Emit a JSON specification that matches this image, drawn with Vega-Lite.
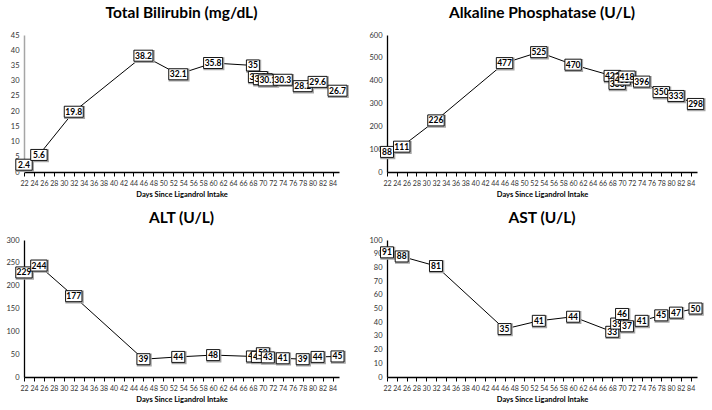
{
  "$schema": "https://vega.github.io/schema/vega-lite/v6.json",
  "padding": {"left": 5, "top": 5, "right": 0, "bottom": 0},
  "background": "white",
  "data": {"values": [
    {"t":"TB","day":22,"v":2.4},{"t":"TB","day":25,"v":5.6},{"t":"TB","day":32,"v":19.8},{"t":"TB","day":46,"v":38.2},{"t":"TB","day":53,"v":32.1},{"t":"TB","day":60,"v":35.8},{"t":"TB","day":68,"v":35},{"t":"TB","day":69,"v":31.2},{"t":"TB","day":70,"v":30.5},{"t":"TB","day":71,"v":30.1},{"t":"TB","day":74,"v":30.3},{"t":"TB","day":78,"v":28.2},{"t":"TB","day":81,"v":29.6},{"t":"TB","day":85,"v":26.7},
    {"t":"ALP","day":22,"v":88},{"t":"ALP","day":25,"v":111},{"t":"ALP","day":32,"v":226},{"t":"ALP","day":46,"v":477},{"t":"ALP","day":53,"v":525},{"t":"ALP","day":60,"v":470},{"t":"ALP","day":68,"v":421},{"t":"ALP","day":69,"v":386},{"t":"ALP","day":70,"v":405},{"t":"ALP","day":71,"v":418},{"t":"ALP","day":74,"v":396},{"t":"ALP","day":78,"v":350},{"t":"ALP","day":81,"v":333},{"t":"ALP","day":85,"v":298},
    {"t":"ALT","day":22,"v":229},{"t":"ALT","day":25,"v":244},{"t":"ALT","day":32,"v":177},{"t":"ALT","day":46,"v":39},{"t":"ALT","day":53,"v":44},{"t":"ALT","day":60,"v":48},{"t":"ALT","day":68,"v":45},{"t":"ALT","day":69,"v":44},{"t":"ALT","day":70,"v":52},{"t":"ALT","day":71,"v":43},{"t":"ALT","day":74,"v":41},{"t":"ALT","day":78,"v":39},{"t":"ALT","day":81,"v":44},{"t":"ALT","day":85,"v":45},
    {"t":"AST","day":22,"v":91},{"t":"AST","day":25,"v":88},{"t":"AST","day":32,"v":81},{"t":"AST","day":46,"v":35},{"t":"AST","day":53,"v":41},{"t":"AST","day":60,"v":44},{"t":"AST","day":68,"v":33},{"t":"AST","day":69,"v":39},{"t":"AST","day":70,"v":46},{"t":"AST","day":71,"v":37},{"t":"AST","day":74,"v":41},{"t":"AST","day":78,"v":45},{"t":"AST","day":81,"v":47},{"t":"AST","day":85,"v":50}
  ]},
  "bounds": "flush",
  "columns": 2,
  "spacing": {"row": 68, "column": 48},
  "concat": [
    {
      "width": 315, "height": 137,
      "title": {"text": "Total Bilirubin (mg/dL)"},
      "transform": [{"filter": "datum.t=='TB'"}],
      "encoding": {
        "x": {"field": "day", "type": "quantitative", "scale": {"domain": [22, 85.3], "nice": false, "zero": false}, "axis": {"values": [22,24,26,28,30,32,34,36,38,40,42,44,46,48,50,52,54,56,58,60,62,64,66,68,70,72,74,76,78,80,82,84], "title": "Days Since Ligandrol Intake"}},
        "y": {"field": "v", "type": "quantitative", "scale": {"domain": [0, 45], "nice": false}, "axis": {"values": [0,5,10,15,20,25,30,35,40,45], "title": null, "minExtent": 18, "maxExtent": 18, "domainColor": "#a6a6a6", "domainWidth": 1.5}}
      },
      "layer": [
        {"mark": {"type": "line", "color": "black", "strokeWidth": 1}, "encoding": {}},
        {"mark": {"type": "point", "filled": false, "stroke": "#a6a6a6", "strokeWidth": 2, "opacity": 1, "xOffset": 0.8, "yOffset": 0.8}, "encoding": {"shape": {"condition": [{"test": "length(datum.v+'')>=4", "value": "M-0.95,-0.55H0.95V0.55H-0.95Z"}, {"test": "length(datum.v+'')==3", "value": "M-0.82,-0.55H0.82V0.55H-0.82Z"}], "value": "M-0.65,-0.55H0.65V0.55H-0.65Z"}, "size": {"value": 400}}},
        {"transform": [{"filter": "indexof([22,32,53,68],datum.day)>=0"}], "mark": {"type": "point", "filled": true, "fill": "white", "stroke": "black", "strokeWidth": 0.9, "opacity": 1}, "encoding": {"shape": {"condition": [{"test": "length(datum.v+'')>=4", "value": "M-0.95,-0.55H0.95V0.55H-0.95Z"}, {"test": "length(datum.v+'')==3", "value": "M-0.82,-0.55H0.82V0.55H-0.82Z"}], "value": "M-0.65,-0.55H0.65V0.55H-0.65Z"}, "size": {"value": 400}}},
        {"transform": [{"filter": "indexof([22,32,53,68],datum.day)>=0"}], "mark": {"type": "text", "font": "Lato", "fontSize": 8.5, "fontWeight": "bold", "color": "black"}, "encoding": {"text": {"field": "v", "type": "nominal"}}},
        {"transform": [{"filter": "indexof([25,46,60],datum.day)>=0"}], "mark": {"type": "point", "filled": true, "fill": "white", "stroke": "black", "strokeWidth": 0.9, "opacity": 1}, "encoding": {"shape": {"condition": [{"test": "length(datum.v+'')>=4", "value": "M-0.95,-0.55H0.95V0.55H-0.95Z"}, {"test": "length(datum.v+'')==3", "value": "M-0.82,-0.55H0.82V0.55H-0.82Z"}], "value": "M-0.65,-0.55H0.65V0.55H-0.65Z"}, "size": {"value": 400}}},
        {"transform": [{"filter": "indexof([25,46,60],datum.day)>=0"}], "mark": {"type": "text", "font": "Lato", "fontSize": 8.5, "fontWeight": "bold", "color": "black"}, "encoding": {"text": {"field": "v", "type": "nominal"}}},
        {"transform": [{"filter": "datum.day==69"}], "mark": {"type": "point", "filled": true, "fill": "white", "stroke": "black", "strokeWidth": 0.9, "opacity": 1}, "encoding": {"shape": {"condition": [{"test": "length(datum.v+'')>=4", "value": "M-0.95,-0.55H0.95V0.55H-0.95Z"}, {"test": "length(datum.v+'')==3", "value": "M-0.82,-0.55H0.82V0.55H-0.82Z"}], "value": "M-0.65,-0.55H0.65V0.55H-0.65Z"}, "size": {"value": 400}}},
        {"transform": [{"filter": "datum.day==69"}], "mark": {"type": "text", "font": "Lato", "fontSize": 8.5, "fontWeight": "bold", "color": "black"}, "encoding": {"text": {"field": "v", "type": "nominal"}}},
        {"transform": [{"filter": "datum.day==70"}], "mark": {"type": "point", "filled": true, "fill": "white", "stroke": "black", "strokeWidth": 0.9, "opacity": 1}, "encoding": {"shape": {"condition": [{"test": "length(datum.v+'')>=4", "value": "M-0.95,-0.55H0.95V0.55H-0.95Z"}, {"test": "length(datum.v+'')==3", "value": "M-0.82,-0.55H0.82V0.55H-0.82Z"}], "value": "M-0.65,-0.55H0.65V0.55H-0.65Z"}, "size": {"value": 400}}},
        {"transform": [{"filter": "datum.day==70"}], "mark": {"type": "text", "font": "Lato", "fontSize": 8.5, "fontWeight": "bold", "color": "black"}, "encoding": {"text": {"field": "v", "type": "nominal"}}},
        {"transform": [{"filter": "indexof([71,78,85],datum.day)>=0"}], "mark": {"type": "point", "filled": true, "fill": "white", "stroke": "black", "strokeWidth": 0.9, "opacity": 1}, "encoding": {"shape": {"condition": [{"test": "length(datum.v+'')>=4", "value": "M-0.95,-0.55H0.95V0.55H-0.95Z"}, {"test": "length(datum.v+'')==3", "value": "M-0.82,-0.55H0.82V0.55H-0.82Z"}], "value": "M-0.65,-0.55H0.65V0.55H-0.65Z"}, "size": {"value": 400}}},
        {"transform": [{"filter": "indexof([71,78,85],datum.day)>=0"}], "mark": {"type": "text", "font": "Lato", "fontSize": 8.5, "fontWeight": "bold", "color": "black"}, "encoding": {"text": {"field": "v", "type": "nominal"}}},
        {"transform": [{"filter": "indexof([74,81],datum.day)>=0"}], "mark": {"type": "point", "filled": true, "fill": "white", "stroke": "black", "strokeWidth": 0.9, "opacity": 1}, "encoding": {"shape": {"condition": [{"test": "length(datum.v+'')>=4", "value": "M-0.95,-0.55H0.95V0.55H-0.95Z"}, {"test": "length(datum.v+'')==3", "value": "M-0.82,-0.55H0.82V0.55H-0.82Z"}], "value": "M-0.65,-0.55H0.65V0.55H-0.65Z"}, "size": {"value": 400}}},
        {"transform": [{"filter": "indexof([74,81],datum.day)>=0"}], "mark": {"type": "text", "font": "Lato", "fontSize": 8.5, "fontWeight": "bold", "color": "black"}, "encoding": {"text": {"field": "v", "type": "nominal"}}}
      ]
    },
    {
      "width": 310, "height": 137,
      "title": {"text": "Alkaline Phosphatase (U/L)"},
      "transform": [{"filter": "datum.t=='ALP'"}],
      "encoding": {
        "x": {"field": "day", "type": "quantitative", "scale": {"domain": [22, 85.3], "nice": false, "zero": false}, "axis": {"values": [22,24,26,28,30,32,34,36,38,40,42,44,46,48,50,52,54,56,58,60,62,64,66,68,70,72,74,76,78,80,82,84], "title": "Days Since Ligandrol Intake"}},
        "y": {"field": "v", "type": "quantitative", "scale": {"domain": [0, 600], "nice": false}, "axis": {"values": [0,100,200,300,400,500,600], "title": null}}
      },
      "layer": [
        {"mark": {"type": "line", "color": "black", "strokeWidth": 1}, "encoding": {}},
        {"mark": {"type": "point", "filled": false, "stroke": "#a6a6a6", "strokeWidth": 2, "opacity": 1, "xOffset": 0.8, "yOffset": 0.8}, "encoding": {"shape": {"condition": [{"test": "length(datum.v+'')>=4", "value": "M-0.95,-0.55H0.95V0.55H-0.95Z"}, {"test": "length(datum.v+'')==3", "value": "M-0.82,-0.55H0.82V0.55H-0.82Z"}], "value": "M-0.65,-0.55H0.65V0.55H-0.65Z"}, "size": {"value": 400}}},
        {"transform": [{"filter": "indexof([22,32,53,68],datum.day)>=0"}], "mark": {"type": "point", "filled": true, "fill": "white", "stroke": "black", "strokeWidth": 0.9, "opacity": 1}, "encoding": {"shape": {"condition": [{"test": "length(datum.v+'')>=4", "value": "M-0.95,-0.55H0.95V0.55H-0.95Z"}, {"test": "length(datum.v+'')==3", "value": "M-0.82,-0.55H0.82V0.55H-0.82Z"}], "value": "M-0.65,-0.55H0.65V0.55H-0.65Z"}, "size": {"value": 400}}},
        {"transform": [{"filter": "indexof([22,32,53,68],datum.day)>=0"}], "mark": {"type": "text", "font": "Lato", "fontSize": 8.5, "fontWeight": "bold", "color": "black"}, "encoding": {"text": {"field": "v", "type": "nominal"}}},
        {"transform": [{"filter": "indexof([25,46,60],datum.day)>=0"}], "mark": {"type": "point", "filled": true, "fill": "white", "stroke": "black", "strokeWidth": 0.9, "opacity": 1}, "encoding": {"shape": {"condition": [{"test": "length(datum.v+'')>=4", "value": "M-0.95,-0.55H0.95V0.55H-0.95Z"}, {"test": "length(datum.v+'')==3", "value": "M-0.82,-0.55H0.82V0.55H-0.82Z"}], "value": "M-0.65,-0.55H0.65V0.55H-0.65Z"}, "size": {"value": 400}}},
        {"transform": [{"filter": "indexof([25,46,60],datum.day)>=0"}], "mark": {"type": "text", "font": "Lato", "fontSize": 8.5, "fontWeight": "bold", "color": "black"}, "encoding": {"text": {"field": "v", "type": "nominal"}}},
        {"transform": [{"filter": "datum.day==69"}], "mark": {"type": "point", "filled": true, "fill": "white", "stroke": "black", "strokeWidth": 0.9, "opacity": 1}, "encoding": {"shape": {"condition": [{"test": "length(datum.v+'')>=4", "value": "M-0.95,-0.55H0.95V0.55H-0.95Z"}, {"test": "length(datum.v+'')==3", "value": "M-0.82,-0.55H0.82V0.55H-0.82Z"}], "value": "M-0.65,-0.55H0.65V0.55H-0.65Z"}, "size": {"value": 400}}},
        {"transform": [{"filter": "datum.day==69"}], "mark": {"type": "text", "font": "Lato", "fontSize": 8.5, "fontWeight": "bold", "color": "black"}, "encoding": {"text": {"field": "v", "type": "nominal"}}},
        {"transform": [{"filter": "datum.day==70"}], "mark": {"type": "point", "filled": true, "fill": "white", "stroke": "black", "strokeWidth": 0.9, "opacity": 1}, "encoding": {"shape": {"condition": [{"test": "length(datum.v+'')>=4", "value": "M-0.95,-0.55H0.95V0.55H-0.95Z"}, {"test": "length(datum.v+'')==3", "value": "M-0.82,-0.55H0.82V0.55H-0.82Z"}], "value": "M-0.65,-0.55H0.65V0.55H-0.65Z"}, "size": {"value": 400}}},
        {"transform": [{"filter": "datum.day==70"}], "mark": {"type": "text", "font": "Lato", "fontSize": 8.5, "fontWeight": "bold", "color": "black"}, "encoding": {"text": {"field": "v", "type": "nominal"}}},
        {"transform": [{"filter": "indexof([71,78,85],datum.day)>=0"}], "mark": {"type": "point", "filled": true, "fill": "white", "stroke": "black", "strokeWidth": 0.9, "opacity": 1}, "encoding": {"shape": {"condition": [{"test": "length(datum.v+'')>=4", "value": "M-0.95,-0.55H0.95V0.55H-0.95Z"}, {"test": "length(datum.v+'')==3", "value": "M-0.82,-0.55H0.82V0.55H-0.82Z"}], "value": "M-0.65,-0.55H0.65V0.55H-0.65Z"}, "size": {"value": 400}}},
        {"transform": [{"filter": "indexof([71,78,85],datum.day)>=0"}], "mark": {"type": "text", "font": "Lato", "fontSize": 8.5, "fontWeight": "bold", "color": "black"}, "encoding": {"text": {"field": "v", "type": "nominal"}}},
        {"transform": [{"filter": "indexof([74,81],datum.day)>=0"}], "mark": {"type": "point", "filled": true, "fill": "white", "stroke": "black", "strokeWidth": 0.9, "opacity": 1}, "encoding": {"shape": {"condition": [{"test": "length(datum.v+'')>=4", "value": "M-0.95,-0.55H0.95V0.55H-0.95Z"}, {"test": "length(datum.v+'')==3", "value": "M-0.82,-0.55H0.82V0.55H-0.82Z"}], "value": "M-0.65,-0.55H0.65V0.55H-0.65Z"}, "size": {"value": 400}}},
        {"transform": [{"filter": "indexof([74,81],datum.day)>=0"}], "mark": {"type": "text", "font": "Lato", "fontSize": 8.5, "fontWeight": "bold", "color": "black"}, "encoding": {"text": {"field": "v", "type": "nominal"}}}
      ]
    },
    {
      "width": 315, "height": 137,
      "title": {"text": "ALT (U/L)"},
      "transform": [{"filter": "datum.t=='ALT'"}],
      "encoding": {
        "x": {"field": "day", "type": "quantitative", "scale": {"domain": [22, 85.3], "nice": false, "zero": false}, "axis": {"values": [22,24,26,28,30,32,34,36,38,40,42,44,46,48,50,52,54,56,58,60,62,64,66,68,70,72,74,76,78,80,82,84], "title": "Days Since Ligandrol Intake"}},
        "y": {"field": "v", "type": "quantitative", "scale": {"domain": [0, 300], "nice": false}, "axis": {"values": [0,50,100,150,200,250,300], "title": null, "minExtent": 18, "maxExtent": 18}}
      },
      "layer": [
        {"mark": {"type": "line", "color": "black", "strokeWidth": 1}, "encoding": {}},
        {"mark": {"type": "point", "filled": false, "stroke": "#a6a6a6", "strokeWidth": 2, "opacity": 1, "xOffset": 0.8, "yOffset": 0.8}, "encoding": {"shape": {"condition": [{"test": "length(datum.v+'')>=4", "value": "M-0.95,-0.55H0.95V0.55H-0.95Z"}, {"test": "length(datum.v+'')==3", "value": "M-0.82,-0.55H0.82V0.55H-0.82Z"}], "value": "M-0.65,-0.55H0.65V0.55H-0.65Z"}, "size": {"value": 400}}},
        {"transform": [{"filter": "indexof([22,32,53,68],datum.day)>=0"}], "mark": {"type": "point", "filled": true, "fill": "white", "stroke": "black", "strokeWidth": 0.9, "opacity": 1}, "encoding": {"shape": {"condition": [{"test": "length(datum.v+'')>=4", "value": "M-0.95,-0.55H0.95V0.55H-0.95Z"}, {"test": "length(datum.v+'')==3", "value": "M-0.82,-0.55H0.82V0.55H-0.82Z"}], "value": "M-0.65,-0.55H0.65V0.55H-0.65Z"}, "size": {"value": 400}}},
        {"transform": [{"filter": "indexof([22,32,53,68],datum.day)>=0"}], "mark": {"type": "text", "font": "Lato", "fontSize": 8.5, "fontWeight": "bold", "color": "black"}, "encoding": {"text": {"field": "v", "type": "nominal"}}},
        {"transform": [{"filter": "indexof([25,46,60],datum.day)>=0"}], "mark": {"type": "point", "filled": true, "fill": "white", "stroke": "black", "strokeWidth": 0.9, "opacity": 1}, "encoding": {"shape": {"condition": [{"test": "length(datum.v+'')>=4", "value": "M-0.95,-0.55H0.95V0.55H-0.95Z"}, {"test": "length(datum.v+'')==3", "value": "M-0.82,-0.55H0.82V0.55H-0.82Z"}], "value": "M-0.65,-0.55H0.65V0.55H-0.65Z"}, "size": {"value": 400}}},
        {"transform": [{"filter": "indexof([25,46,60],datum.day)>=0"}], "mark": {"type": "text", "font": "Lato", "fontSize": 8.5, "fontWeight": "bold", "color": "black"}, "encoding": {"text": {"field": "v", "type": "nominal"}}},
        {"transform": [{"filter": "datum.day==69"}], "mark": {"type": "point", "filled": true, "fill": "white", "stroke": "black", "strokeWidth": 0.9, "opacity": 1}, "encoding": {"shape": {"condition": [{"test": "length(datum.v+'')>=4", "value": "M-0.95,-0.55H0.95V0.55H-0.95Z"}, {"test": "length(datum.v+'')==3", "value": "M-0.82,-0.55H0.82V0.55H-0.82Z"}], "value": "M-0.65,-0.55H0.65V0.55H-0.65Z"}, "size": {"value": 400}}},
        {"transform": [{"filter": "datum.day==69"}], "mark": {"type": "text", "font": "Lato", "fontSize": 8.5, "fontWeight": "bold", "color": "black"}, "encoding": {"text": {"field": "v", "type": "nominal"}}},
        {"transform": [{"filter": "datum.day==70"}], "mark": {"type": "point", "filled": true, "fill": "white", "stroke": "black", "strokeWidth": 0.9, "opacity": 1}, "encoding": {"shape": {"condition": [{"test": "length(datum.v+'')>=4", "value": "M-0.95,-0.55H0.95V0.55H-0.95Z"}, {"test": "length(datum.v+'')==3", "value": "M-0.82,-0.55H0.82V0.55H-0.82Z"}], "value": "M-0.65,-0.55H0.65V0.55H-0.65Z"}, "size": {"value": 400}}},
        {"transform": [{"filter": "datum.day==70"}], "mark": {"type": "text", "font": "Lato", "fontSize": 8.5, "fontWeight": "bold", "color": "black"}, "encoding": {"text": {"field": "v", "type": "nominal"}}},
        {"transform": [{"filter": "indexof([71,78,85],datum.day)>=0"}], "mark": {"type": "point", "filled": true, "fill": "white", "stroke": "black", "strokeWidth": 0.9, "opacity": 1}, "encoding": {"shape": {"condition": [{"test": "length(datum.v+'')>=4", "value": "M-0.95,-0.55H0.95V0.55H-0.95Z"}, {"test": "length(datum.v+'')==3", "value": "M-0.82,-0.55H0.82V0.55H-0.82Z"}], "value": "M-0.65,-0.55H0.65V0.55H-0.65Z"}, "size": {"value": 400}}},
        {"transform": [{"filter": "indexof([71,78,85],datum.day)>=0"}], "mark": {"type": "text", "font": "Lato", "fontSize": 8.5, "fontWeight": "bold", "color": "black"}, "encoding": {"text": {"field": "v", "type": "nominal"}}},
        {"transform": [{"filter": "indexof([74,81],datum.day)>=0"}], "mark": {"type": "point", "filled": true, "fill": "white", "stroke": "black", "strokeWidth": 0.9, "opacity": 1}, "encoding": {"shape": {"condition": [{"test": "length(datum.v+'')>=4", "value": "M-0.95,-0.55H0.95V0.55H-0.95Z"}, {"test": "length(datum.v+'')==3", "value": "M-0.82,-0.55H0.82V0.55H-0.82Z"}], "value": "M-0.65,-0.55H0.65V0.55H-0.65Z"}, "size": {"value": 400}}},
        {"transform": [{"filter": "indexof([74,81],datum.day)>=0"}], "mark": {"type": "text", "font": "Lato", "fontSize": 8.5, "fontWeight": "bold", "color": "black"}, "encoding": {"text": {"field": "v", "type": "nominal"}}}
      ]
    },
    {
      "width": 310, "height": 137,
      "title": {"text": "AST (U/L)"},
      "transform": [{"filter": "datum.t=='AST'"}],
      "encoding": {
        "x": {"field": "day", "type": "quantitative", "scale": {"domain": [22, 85.3], "nice": false, "zero": false}, "axis": {"values": [22,24,26,28,30,32,34,36,38,40,42,44,46,48,50,52,54,56,58,60,62,64,66,68,70,72,74,76,78,80,82,84], "title": "Days Since Ligandrol Intake"}},
        "y": {"field": "v", "type": "quantitative", "scale": {"domain": [0, 100], "nice": false}, "axis": {"values": [0,10,20,30,40,50,60,70,80,90,100], "title": null}}
      },
      "layer": [
        {"mark": {"type": "line", "color": "black", "strokeWidth": 1}, "encoding": {}},
        {"mark": {"type": "point", "filled": false, "stroke": "#a6a6a6", "strokeWidth": 2, "opacity": 1, "xOffset": 0.8, "yOffset": 0.8}, "encoding": {"shape": {"condition": [{"test": "length(datum.v+'')>=4", "value": "M-0.95,-0.55H0.95V0.55H-0.95Z"}, {"test": "length(datum.v+'')==3", "value": "M-0.82,-0.55H0.82V0.55H-0.82Z"}], "value": "M-0.65,-0.55H0.65V0.55H-0.65Z"}, "size": {"value": 400}}},
        {"transform": [{"filter": "indexof([22,32,53,68],datum.day)>=0"}], "mark": {"type": "point", "filled": true, "fill": "white", "stroke": "black", "strokeWidth": 0.9, "opacity": 1}, "encoding": {"shape": {"condition": [{"test": "length(datum.v+'')>=4", "value": "M-0.95,-0.55H0.95V0.55H-0.95Z"}, {"test": "length(datum.v+'')==3", "value": "M-0.82,-0.55H0.82V0.55H-0.82Z"}], "value": "M-0.65,-0.55H0.65V0.55H-0.65Z"}, "size": {"value": 400}}},
        {"transform": [{"filter": "indexof([22,32,53,68],datum.day)>=0"}], "mark": {"type": "text", "font": "Lato", "fontSize": 8.5, "fontWeight": "bold", "color": "black"}, "encoding": {"text": {"field": "v", "type": "nominal"}}},
        {"transform": [{"filter": "indexof([25,46,60],datum.day)>=0"}], "mark": {"type": "point", "filled": true, "fill": "white", "stroke": "black", "strokeWidth": 0.9, "opacity": 1}, "encoding": {"shape": {"condition": [{"test": "length(datum.v+'')>=4", "value": "M-0.95,-0.55H0.95V0.55H-0.95Z"}, {"test": "length(datum.v+'')==3", "value": "M-0.82,-0.55H0.82V0.55H-0.82Z"}], "value": "M-0.65,-0.55H0.65V0.55H-0.65Z"}, "size": {"value": 400}}},
        {"transform": [{"filter": "indexof([25,46,60],datum.day)>=0"}], "mark": {"type": "text", "font": "Lato", "fontSize": 8.5, "fontWeight": "bold", "color": "black"}, "encoding": {"text": {"field": "v", "type": "nominal"}}},
        {"transform": [{"filter": "datum.day==69"}], "mark": {"type": "point", "filled": true, "fill": "white", "stroke": "black", "strokeWidth": 0.9, "opacity": 1}, "encoding": {"shape": {"condition": [{"test": "length(datum.v+'')>=4", "value": "M-0.95,-0.55H0.95V0.55H-0.95Z"}, {"test": "length(datum.v+'')==3", "value": "M-0.82,-0.55H0.82V0.55H-0.82Z"}], "value": "M-0.65,-0.55H0.65V0.55H-0.65Z"}, "size": {"value": 400}}},
        {"transform": [{"filter": "datum.day==69"}], "mark": {"type": "text", "font": "Lato", "fontSize": 8.5, "fontWeight": "bold", "color": "black"}, "encoding": {"text": {"field": "v", "type": "nominal"}}},
        {"transform": [{"filter": "datum.day==70"}], "mark": {"type": "point", "filled": true, "fill": "white", "stroke": "black", "strokeWidth": 0.9, "opacity": 1}, "encoding": {"shape": {"condition": [{"test": "length(datum.v+'')>=4", "value": "M-0.95,-0.55H0.95V0.55H-0.95Z"}, {"test": "length(datum.v+'')==3", "value": "M-0.82,-0.55H0.82V0.55H-0.82Z"}], "value": "M-0.65,-0.55H0.65V0.55H-0.65Z"}, "size": {"value": 400}}},
        {"transform": [{"filter": "datum.day==70"}], "mark": {"type": "text", "font": "Lato", "fontSize": 8.5, "fontWeight": "bold", "color": "black"}, "encoding": {"text": {"field": "v", "type": "nominal"}}},
        {"transform": [{"filter": "indexof([71,78,85],datum.day)>=0"}], "mark": {"type": "point", "filled": true, "fill": "white", "stroke": "black", "strokeWidth": 0.9, "opacity": 1}, "encoding": {"shape": {"condition": [{"test": "length(datum.v+'')>=4", "value": "M-0.95,-0.55H0.95V0.55H-0.95Z"}, {"test": "length(datum.v+'')==3", "value": "M-0.82,-0.55H0.82V0.55H-0.82Z"}], "value": "M-0.65,-0.55H0.65V0.55H-0.65Z"}, "size": {"value": 400}}},
        {"transform": [{"filter": "indexof([71,78,85],datum.day)>=0"}], "mark": {"type": "text", "font": "Lato", "fontSize": 8.5, "fontWeight": "bold", "color": "black"}, "encoding": {"text": {"field": "v", "type": "nominal"}}},
        {"transform": [{"filter": "indexof([74,81],datum.day)>=0"}], "mark": {"type": "point", "filled": true, "fill": "white", "stroke": "black", "strokeWidth": 0.9, "opacity": 1}, "encoding": {"shape": {"condition": [{"test": "length(datum.v+'')>=4", "value": "M-0.95,-0.55H0.95V0.55H-0.95Z"}, {"test": "length(datum.v+'')==3", "value": "M-0.82,-0.55H0.82V0.55H-0.82Z"}], "value": "M-0.65,-0.55H0.65V0.55H-0.65Z"}, "size": {"value": 400}}},
        {"transform": [{"filter": "indexof([74,81],datum.day)>=0"}], "mark": {"type": "text", "font": "Lato", "fontSize": 8.5, "fontWeight": "bold", "color": "black"}, "encoding": {"text": {"field": "v", "type": "nominal"}}}
      ]
    }
  ],
  "config": {
    "view": {"stroke": null},
    "axis": {"grid": false, "labelFont": "Lato", "labelFontSize": 7.5, "labelColor": "#333333", "domainColor": "black", "domainWidth": 1.3, "tickColor": "black", "titleFont": "Lato", "titleFontSize": 7.5, "titleFontWeight": "bold", "titleColor": "black", "labelOverlap": false, "labelFlush": false},
    "axisX": {"tickSize": 4, "labelPadding": 3, "titlePadding": 4, "labelFontSize": 7},
    "axisY": {"ticks": false, "labelPadding": 5},
    "title": {"font": "Lato", "fontSize": 15.5, "fontWeight": "bold", "color": "black", "anchor": "middle", "offset": 10}
  }
}
